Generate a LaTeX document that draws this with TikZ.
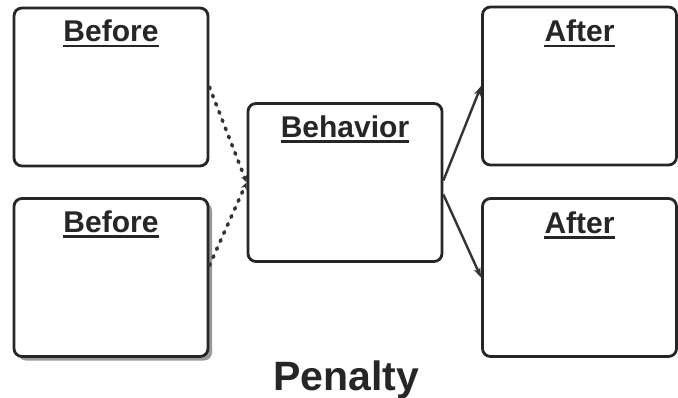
\documentclass[tikz,border=0pt]{standalone}
\usepackage{fontspec}
\setmainfont{Liberation Sans}
\usetikzlibrary{arrows.meta,shadows}

\tikzset{
  panel/.style={draw=black!85, line width=2.8pt, rounded corners=8pt,
    minimum width=194pt, minimum height=158pt, inner sep=0pt, fill=white},
  heading/.style={font=\fontsize{30}{32}\selectfont\bfseries, text=black!85,
    anchor=base, inner sep=0pt},
  rule/.style={draw=black!85, line width=2.2pt},
  link/.style={draw=black!80, line width=2.4pt, -{Stealth[length=10pt,width=7pt]}},
  dotlink/.style={draw=black!80, line width=3.6pt, line cap=round,
    dash pattern=on 1.8pt off 7pt, -{Stealth[length=7pt,width=6pt]}}
}

\begin{document}
\begin{tikzpicture}[x=1pt, y=-1pt]
    \useasboundingbox (0,0) rectangle (678,398);

    % boxes
    \node[panel] (before1) at (111,87) {};
    \node[panel, drop shadow={shadow xshift=4pt, shadow yshift=-4pt, fill=black!40, opacity=1}] (before2) at (111,277.5) {};
    \node[panel] (behavior) at (345,182.5) {};
    \node[panel] (after1) at (579.5,86) {};
    \node[panel] (after2) at (579.5,277.5) {};

    % headings
    \node[heading] (before1t) at ([yshift=-35pt]before1.north) {Before};
    \node[heading] (before2t) at ([yshift=-35pt]before2.north) {Before};
    \node[heading] (behaviort) at ([yshift=-35pt]behavior.north) {Behavior};
    \node[heading] (after1t) at ([yshift=-36pt]after1.north) {After};
    \node[heading] (after2t) at ([yshift=-36pt]after2.north) {After};

    % underlines
    \foreach \t in {before1t,before2t,behaviort,after1t,after2t}
        \draw[rule] ([yshift=-4.5pt]\t.base west) -- ([yshift=-4.5pt]\t.base east);

    % connectors
    \draw[dotlink] (before1.east) -- (behavior.west);
    \draw[dotlink] ([yshift=12pt]before2.east) -- (behavior.west);
    \draw[link] ([yshift=2pt]behavior.east) -- (after1.west);
    \draw[link] ([yshift=-12pt]behavior.east) -- (after2.west);

    \node[font=\fontsize{41}{44}\selectfont\bfseries, text=black!85, anchor=base] (penalty) at (346,390) {Penalty};
\end{tikzpicture}
\end{document}
